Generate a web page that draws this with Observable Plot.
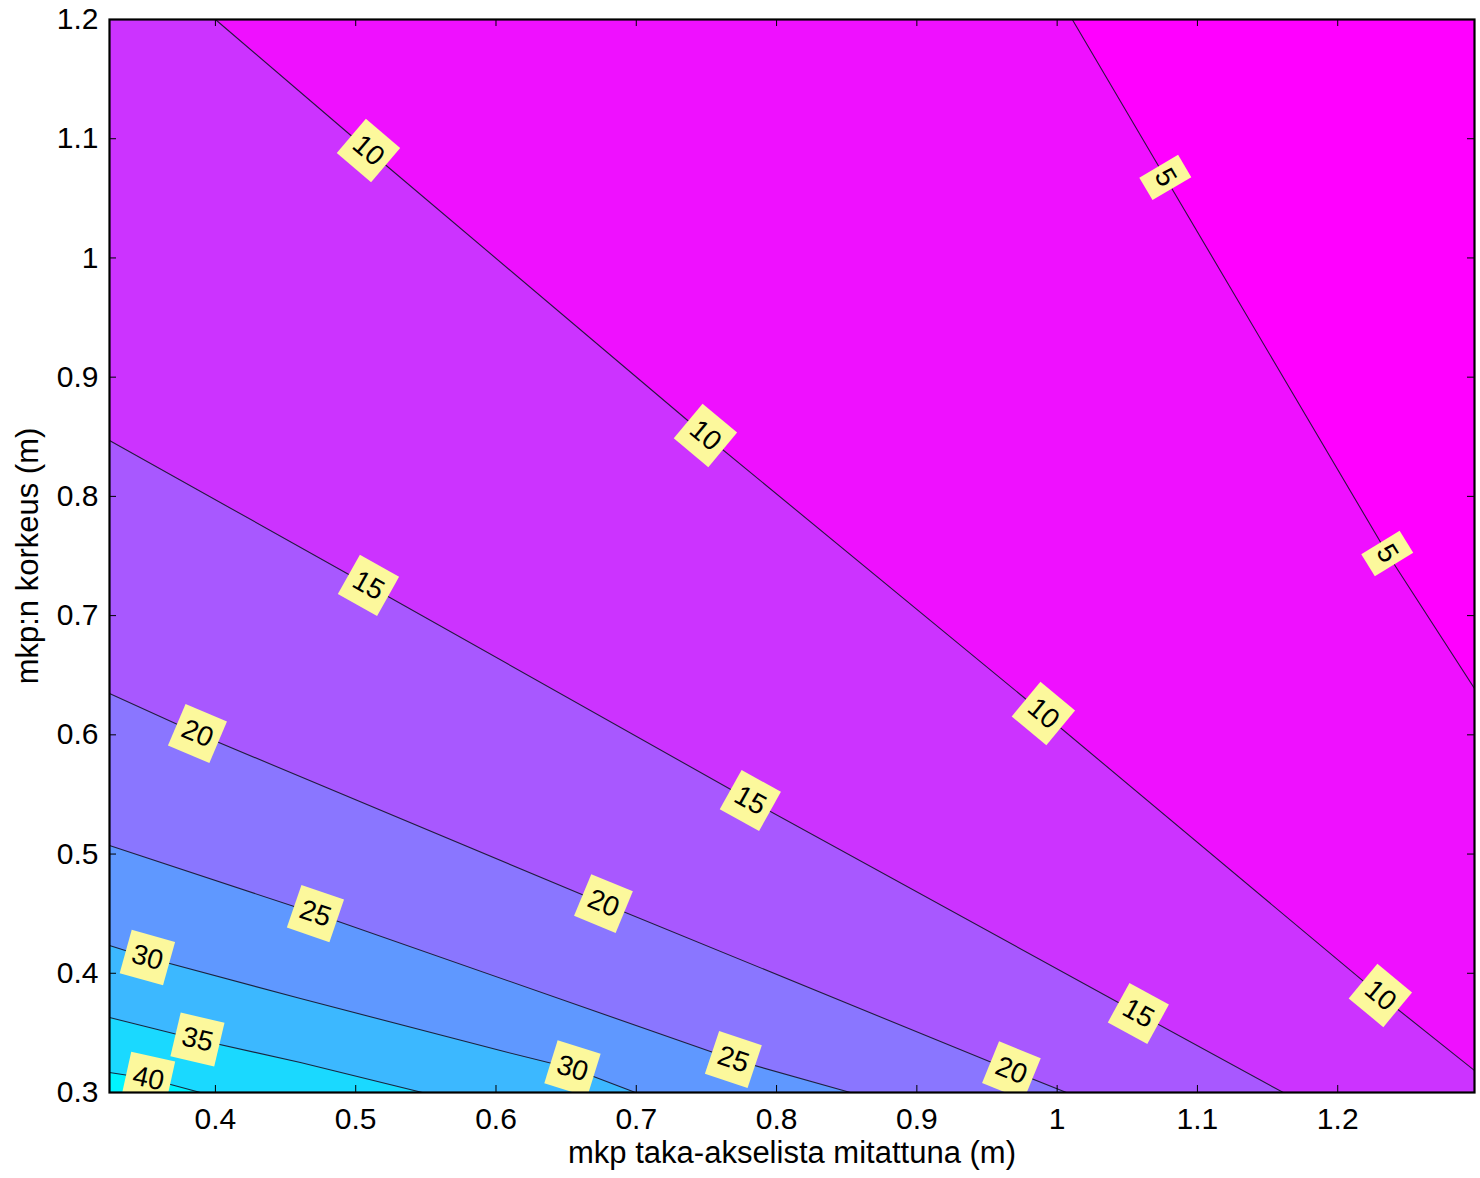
<!DOCTYPE html>
<html>
<head>
<meta charset="utf-8">
<script src="https://cdn.jsdelivr.net/npm/d3@7"></script>
<script src="https://cdn.jsdelivr.net/npm/@observablehq/plot@0.6"></script>
<style>
  html, body { margin: 0; padding: 0; background: #ffffff; }
  #chart svg { display: block; }
</style>
</head>
<body>
<div id="chart"></div>
<script>
// ---------------- data ----------------
const levels = [5, 10, 15, 20, 25, 30, 35, 40];

// contour lines: [x (m), y (m)] points, from upper-left end to lower-right end
const contour5  = [[1.0108, 1.2], [1.0771, 1.0675], [1.1562, 0.9098], [1.2353, 0.7521], [1.2975, 0.6389]];
const contour10 = [[0.4000, 1.2], [0.5091, 1.0901], [0.7493, 0.8511], [0.9902, 0.6179], [1.2304, 0.3814], [1.2975, 0.3184]];
const contour15 = [[0.3245, 0.8469], [0.5091, 0.7253], [0.7813, 0.5449], [1.0579, 0.3663], [1.1612, 0.3]];
const contour20 = [[0.3245, 0.6347], [0.3872, 0.6011], [0.6766, 0.4585], [0.9674, 0.3184], [1.0066, 0.3]];
const contour25 = [[0.3245, 0.5072], [0.4713, 0.4501], [0.7692, 0.3277], [0.8526, 0.3]];
const contour30 = [[0.3245, 0.4233], [0.3515, 0.4132], [0.4606, 0.3788], [0.6031, 0.3352], [0.6545, 0.3201], [0.6994, 0.3]];
const contour35 = [[0.3245, 0.3629], [0.3872, 0.3444], [0.4606, 0.3252], [0.5475, 0.3]];
const contour40 = [[0.3245, 0.3168], [0.3522, 0.3117], [0.3893, 0.3]];
const contours = [contour5, contour10, contour15, contour20, contour25, contour30, contour35, contour40];

// inline contour labels: level and position on its line
const contourLabels = [
  {level: 5,  x: 1.0771, y: 1.0675}, {level: 5,  x: 1.2353, y: 0.7521},
  {level: 10, x: 0.5091, y: 1.0901}, {level: 10, x: 0.7493, y: 0.8511},
  {level: 10, x: 0.9902, y: 0.6179}, {level: 10, x: 1.2304, y: 0.3814},
  {level: 15, x: 0.5091, y: 0.7253}, {level: 15, x: 0.7813, y: 0.5449}, {level: 15, x: 1.0579, y: 0.3663},
  {level: 20, x: 0.3872, y: 0.6011}, {level: 20, x: 0.6766, y: 0.4585}, {level: 20, x: 0.9674, y: 0.3184},
  {level: 25, x: 0.4713, y: 0.4501}, {level: 25, x: 0.7692, y: 0.3277},
  {level: 30, x: 0.3515, y: 0.4132}, {level: 30, x: 0.6545, y: 0.3201},
  {level: 35, x: 0.3872, y: 0.3444},
  {level: 40, x: 0.3522, y: 0.3117}
];

const xTicks = [0.4, 0.5, 0.6, 0.7, 0.8, 0.9, 1, 1.1, 1.2];
const yTicks = [0.3, 0.4, 0.5, 0.6, 0.7, 0.8, 0.9, 1, 1.1, 1.2];
const xDomain = [0.3245, 1.2975];
const yDomain = [0.3, 1.2];
const xLabel = "mkp taka-akselista mitattuna (m)";
const yLabel = "mkp:n korkeus (m)";

// ---------------- style ----------------
// region colours ("cool" colormap): <5, 5–10, 10–15, ..., >40
const regionColors = ["#ff00ff", "#ef10ff", "#cc33ff", "#a858ff", "#8a76ff", "#5f98ff", "#3cb8ff", "#1ad9ff", "#00f4ff"];
const W = 1480, H = 1178, mL = 109, mT = 19, mR = 6, mB = 86;
const frameW = W - mL - mR, frameH = H - mT - mB;
const kx = frameW / (xDomain[1] - xDomain[0]);
const ky = frameH / (yDomain[1] - yDomain[0]);
const FONT = "'Liberation Sans', Arial, Helvetica, sans-serif";
const boxColor = "#fcf89c";
const boxH = 45;
const boxW = (s) => s.length === 1 ? 26 : 45;
const tickLen = 7;

// ---------------- derived tables ----------------
const [xMin, xMax] = xDomain, [yMin, yMax] = yDomain;
function regionPolygon(pts) {
  const poly = pts.map(([x, y]) => ({x, y}));
  const last = pts[pts.length - 1];
  if (last[0] >= xMax - 1e-6) poly.push({x: xMax, y: yMin});
  poly.push({x: xMin, y: yMin});
  if (pts[0][1] >= yMax - 1e-6) poly.push({x: xMin, y: yMax});
  return poly;
}
function labelAngle(lab) {
  const pts = contours[levels.indexOf(lab.level)];
  let j = 0, best = Infinity;
  pts.forEach(([x, y], i) => { const d = Math.hypot(x - lab.x, y - lab.y); if (d < best) { best = d; j = i; } });
  const a = pts[Math.max(0, j - 1)], b = pts[Math.min(pts.length - 1, j + 1)];
  return Math.atan2(-(b[1] - a[1]) * ky, (b[0] - a[0]) * kx) * 180 / Math.PI;
}
const labelRows = contourLabels.map((d, i) => ({...d, id: i, text: String(d.level), angle: labelAngle(d)}));
const boxRows = labelRows.flatMap((d) => {
  const w = boxW(d.text), t = d.angle * Math.PI / 180;
  const c = Math.cos(t), s = Math.sin(t);
  return [[-w / 2, -boxH / 2], [w / 2, -boxH / 2], [w / 2, boxH / 2], [-w / 2, boxH / 2]].map(([u, v]) => ({
    id: d.id,
    x: d.x + (u * c - v * s) / kx,
    y: d.y - (u * s + v * c) / ky
  }));
});
const lineRows = contours.flatMap((pts, i) => pts.map(([x, y]) => ({level: levels[i], x, y})));

const marks = [
  Plot.frame({fill: regionColors[0]}),
  ...contours.map((pts, i) => Plot.line(regionPolygon(pts), {x: "x", y: "y", fill: regionColors[i + 1], stroke: "none", clip: "frame"})),
  Plot.line(lineRows, {x: "x", y: "y", z: "level", stroke: "#15152a", strokeWidth: 1.1, strokeOpacity: 0.9, clip: "frame"}),
  Plot.line(boxRows, {x: "x", y: "y", z: "id", fill: boxColor, stroke: "none", clip: "frame"}),
  Plot.text(labelRows, {x: "x", y: "y", text: "text", rotate: "angle", fontSize: 28, fontFamily: FONT, fill: "#000", clip: "frame"}),
  Plot.frame({stroke: "#000", strokeWidth: 2.2}),
  Plot.tickX(xTicks, {x: (d) => d, insetTop: frameH - tickLen, stroke: "#000"}),
  Plot.tickX(xTicks, {x: (d) => d, insetBottom: frameH - tickLen, stroke: "#000"}),
  Plot.tickY(yTicks, {y: (d) => d, insetRight: frameW - tickLen, stroke: "#000"}),
  Plot.tickY(yTicks, {y: (d) => d, insetLeft: frameW - tickLen, stroke: "#000"}),
  Plot.axisX(xTicks, {tickSize: 0, tickPadding: 15, fontSize: 30, fontFamily: FONT, fill: "#000", label: null, tickFormat: (d) => `${d}`}),
  Plot.axisY(yTicks, {tickSize: 0, tickPadding: 11, fontSize: 30, fontFamily: FONT, fill: "#000", label: null, tickFormat: (d) => `${d}`}),
  Plot.text([xLabel], {frameAnchor: "bottom", dy: 70, text: (d) => d, fontSize: 31, fontFamily: FONT, fill: "#000"}),
  Plot.text([yLabel], {frameAnchor: "left", textAnchor: "middle", dx: -81, rotate: -90, text: (d) => d, fontSize: 31, fontFamily: FONT, fill: "#000"})
];

const chart = Plot.plot({
  width: W,
  height: H,
  marginLeft: mL,
  marginTop: mT,
  marginRight: mR,
  marginBottom: mB,
  style: {fontFamily: FONT, fontSize: "30px", background: "#ffffff", color: "#000"},
  x: {domain: xDomain},
  y: {domain: yDomain},
  marks
});
document.getElementById("chart").appendChild(chart);
</script>
</body>
</html>
